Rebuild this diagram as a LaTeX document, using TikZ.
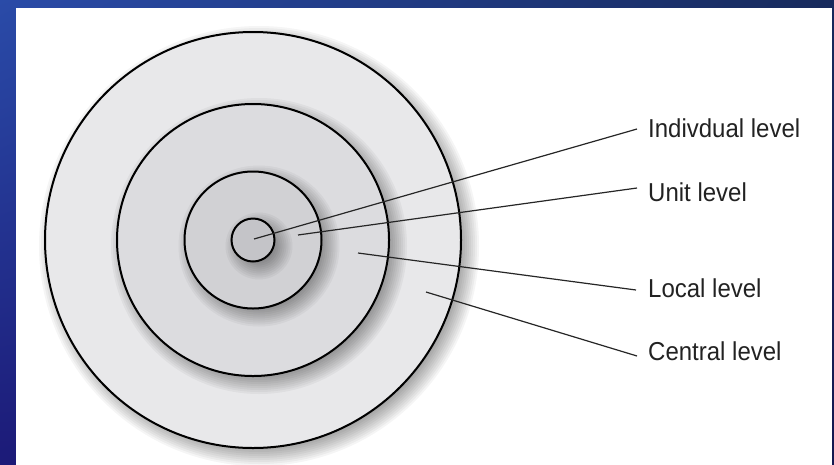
\documentclass[tikz,border=0pt]{standalone}
\usepackage{fontspec}
\setmainfont{Liberation Sans}
\usetikzlibrary{shadings,calc}
\begin{document}
\begin{tikzpicture}[x=1pt,y=-1pt,
  lbl/.style={anchor=west,inner sep=0pt,font=\fontsize{24}{28}\selectfont,text=txtc,yscale=1.08},
  ring/.style={draw=black,line width=2pt},
  leader/.style={draw=black!85,line width=1.2pt}]
\definecolor{txtc}{HTML}{222222}
\definecolor{cA}{HTML}{E8E8EA}
\definecolor{cB}{HTML}{DCDCDF}
\definecolor{cC}{HTML}{D1D1D4}
\definecolor{cD}{HTML}{C4C4C8}
\definecolor{bgTL}{HTML}{2A4BA8}
\definecolor{bgTR}{HTML}{172A5C}
\definecolor{bgBL}{HTML}{1C1A78}
\definecolor{bgBR}{HTML}{141850}
% background
\useasboundingbox (0,0) rectangle (834,464);
\shade[upper left=bgTL,upper right=bgTR,lower left=bgBL,lower right=bgBR] (0,0) rectangle (834,464);
\fill[white] (16,8) rectangle (832,466);
% shadows + circles
\coordinate (ctr) at (253,240);
\foreach \r/\c in {208/cA,136/cB,68.5/cC,21.5/cD}{
  \foreach \k in {-6,-4,...,12}{
    \fill[black,opacity=0.04] ($(ctr)+(6,6)$) circle[radius=\r pt+\k pt];
  }
  \fill[\c] (ctr) circle[radius=\r pt];
  \draw[ring] (ctr) circle[radius=\r pt];
}
% labels
\node[lbl] (ind) at (648,128) {Indivdual level};
\node[lbl] (unit) at (648,192) {Unit level};
\node[lbl] (loc) at (648,288.5) {Local level};
\node[lbl] (cen) at (648,351.5) {Central level};
% leader endpoints
\coordinate (sInd) at (254,239);
\coordinate (sUnit) at (298,235);
\coordinate (sLoc) at (358,253);
\coordinate (sCen) at (426,292);
\coordinate (eInd) at (637,129);
\coordinate (eUnit) at (637,188);
\coordinate (eLoc) at (636,290);
\coordinate (eCen) at (637,356);
\draw[leader] (sInd) -- (eInd);
\draw[leader] (sUnit) -- (eUnit);
\draw[leader] (sLoc) -- (eLoc);
\draw[leader] (sCen) -- (eCen);
\end{tikzpicture}
\end{document}
